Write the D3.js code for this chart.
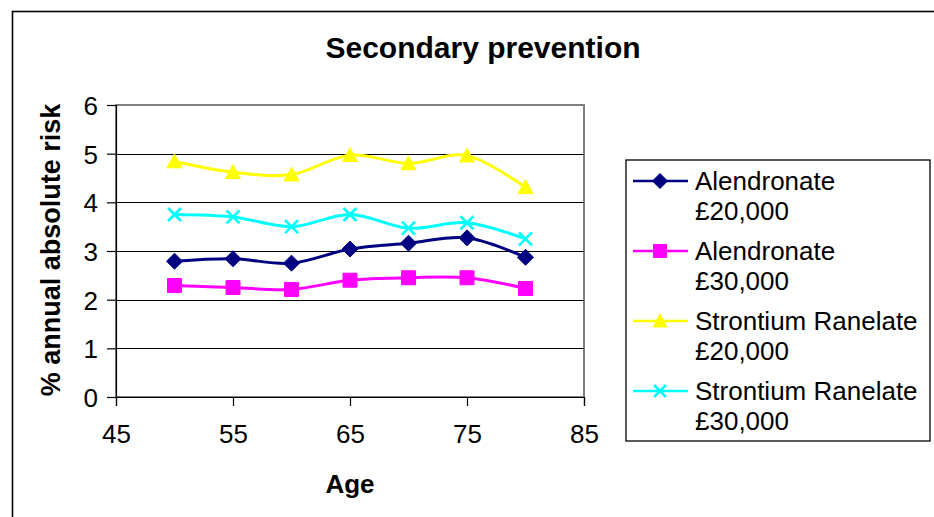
<!DOCTYPE html>
<html>
<head>
<meta charset="utf-8">
<script src="https://cdn.jsdelivr.net/npm/d3@7"></script>
<style>
  html, body { margin: 0; padding: 0; background: #fff; }
  svg { display: block; font-family: Arial, "Liberation Sans", sans-serif; }
</style>
</head>
<body>
<svg id="chart" width="934" height="517"></svg>
<script>
// Ages at which the risk thresholds were evaluated
const ages = [50, 55, 60, 65, 70, 75, 80];

// % annual absolute risk threshold per treatment / willingness-to-pay
const alendronate20k = [2.79, 2.84, 2.75, 3.04, 3.16, 3.27, 2.87];
const alendronate30k = [2.29, 2.25, 2.21, 2.40, 2.45, 2.45, 2.23];
const strontium20k   = [4.84, 4.62, 4.57, 4.97, 4.80, 4.96, 4.31];
const strontium30k   = [3.75, 3.70, 3.50, 3.75, 3.47, 3.58, 3.25];

const seriesNames = [
  ["Alendronate", "£20,000"],
  ["Alendronate", "£30,000"],
  ["Strontium Ranelate", "£20,000"],
  ["Strontium Ranelate", "£30,000"]
];
const seriesValues = [alendronate20k, alendronate30k, strontium20k, strontium30k];
const seriesColors = ["#000080", "#FF00FF", "#FFFF00", "#00FFFF"];
const seriesMarkers = ["diamond", "square", "triangle", "cross"];

const xTicks = [45, 55, 65, 75, 85];
const yTicks = [0, 1, 2, 3, 4, 5, 6];

const chartTitle = "Secondary prevention";
const xTitle = "Age";
const yTitle = "% annual absolute risk";

const svg = d3.select("#chart");

// Outer chart frame (runs off the right and bottom edges)
svg.append("rect")
  .attr("x", 12.5).attr("y", 11.5)
  .attr("width", 960).attr("height", 560)
  .attr("fill", "#fff")
  .attr("stroke", "#000").attr("stroke-width", 1.6);

const plot = { left: 116, right: 584, top: 105, bottom: 397 };

const x = d3.scaleLinear().domain([45, 85]).range([plot.left, plot.right]);
const y = d3.scaleLinear().domain([0, 6]).range([plot.bottom, plot.top]);

// Plot area border
svg.append("rect")
  .attr("x", plot.left).attr("y", plot.top)
  .attr("width", plot.right - plot.left).attr("height", plot.bottom - plot.top)
  .attr("fill", "#fff")
  .attr("stroke", "#808080").attr("stroke-width", 2);

// Horizontal gridlines
svg.append("g")
  .selectAll("line")
  .data(yTicks.filter(d => d > 0 && d < 6))
  .join("line")
  .attr("x1", plot.left).attr("x2", plot.right)
  .attr("y1", d => Math.round(y(d)) + 0.5).attr("y2", d => Math.round(y(d)) + 0.5)
  .attr("stroke", "#000").attr("stroke-width", 1);

// Axes
const yAxis = d3.axisLeft(y).tickValues(yTicks).tickSize(9).tickPadding(9).tickFormat(d3.format("d"));
const xAxis = d3.axisBottom(x).tickValues(xTicks).tickSize(9).tickPadding(19).tickFormat(d3.format("d"));

const gy = svg.append("g").attr("transform", `translate(${plot.left},0)`).call(yAxis);
const gx = svg.append("g").attr("transform", `translate(0,${plot.bottom})`).call(xAxis);

[gx, gy].forEach(g => {
  g.select(".domain").attr("stroke", "#000").attr("stroke-width", 1.2);
  g.selectAll(".tick line").attr("stroke", "#000").attr("stroke-width", 1.2);
  g.selectAll(".tick text")
    .attr("fill", "#000")
    .style("font-size", "26px")
    .style("font-family", "Arial, 'Liberation Sans', sans-serif");
});
gy.selectAll(".tick text").attr("dy", "0.36em");

// Series lines (smoothed)
const line = d3.line()
  .x((d, i) => x(ages[i]))
  .y(d => y(d))
  .curve(d3.curveCardinal.tension(0));

const markerPath = (type, s) => {
  const h = s / 2;
  switch (type) {
    case "diamond": return `M0,${-h}L${h},0L0,${h}L${-h},0Z`;
    case "square": return `M${-h},${-h}H${h}V${h}H${-h}Z`;
    case "triangle": return `M0,${-h}L${h},${h * 0.85}L${-h},${h * 0.85}Z`;
    case "cross": return `M${-h},${-h}L${h},${h}M${h},${-h}L${-h},${h}`;
  }
};
const markerSizes = { diamond: 16, square: 14, triangle: 15, cross: 13 };

const drawMarker = (g, type, color, size) => {
  const p = g.append("path").attr("d", markerPath(type, size));
  if (type === "cross") {
    p.attr("fill", "none").attr("stroke", color).attr("stroke-width", 2.6);
  } else {
    p.attr("fill", color).attr("stroke", color).attr("stroke-width", 1);
  }
};

seriesValues.forEach((vals, si) => {
  const g = svg.append("g");
  g.append("path")
    .datum(vals)
    .attr("d", line)
    .attr("fill", "none")
    .attr("stroke", seriesColors[si])
    .attr("stroke-width", 3);
  vals.forEach((v, i) => {
    const mg = g.append("g").attr("transform", `translate(${x(ages[i])},${y(v)})`);
    drawMarker(mg, seriesMarkers[si], seriesColors[si], markerSizes[seriesMarkers[si]]);
  });
});

// Titles
svg.append("text")
  .attr("x", 483).attr("y", 58)
  .attr("text-anchor", "middle")
  .style("font-size", "30px").style("font-weight", "bold")
  .text(chartTitle);

svg.append("text")
  .attr("x", 350).attr("y", 493)
  .attr("text-anchor", "middle")
  .style("font-size", "26px").style("font-weight", "bold")
  .text(xTitle);

svg.append("text")
  .attr("transform", "translate(60,250) rotate(-90)")
  .attr("text-anchor", "middle")
  .style("font-size", "27px").style("font-weight", "bold")
  .text(yTitle);

// Legend
const legend = svg.append("g");
legend.append("rect")
  .attr("x", 626).attr("y", 160)
  .attr("width", 304).attr("height", 281)
  .attr("fill", "#fff")
  .attr("stroke", "#000").attr("stroke-width", 1.3);

seriesNames.forEach((lines, si) => {
  const cy = 181 + si * 70;
  const eg = legend.append("g");
  eg.append("line")
    .attr("x1", 633).attr("x2", 688)
    .attr("y1", cy).attr("y2", cy)
    .attr("stroke", seriesColors[si]).attr("stroke-width", 2.5);
  const mg = eg.append("g").attr("transform", `translate(660,${cy})`);
  drawMarker(mg, seriesMarkers[si], seriesColors[si], markerSizes[seriesMarkers[si]] - 1);
  const t = eg.append("text")
    .attr("x", 695).attr("y", cy)
    .style("font-size", "26px");
  lines.forEach((ln, li) => {
    t.append("tspan").attr("x", 695).attr("y", cy + li * 30).attr("dy", "0.36em").text(ln);
  });
});
</script>
</body>
</html>
